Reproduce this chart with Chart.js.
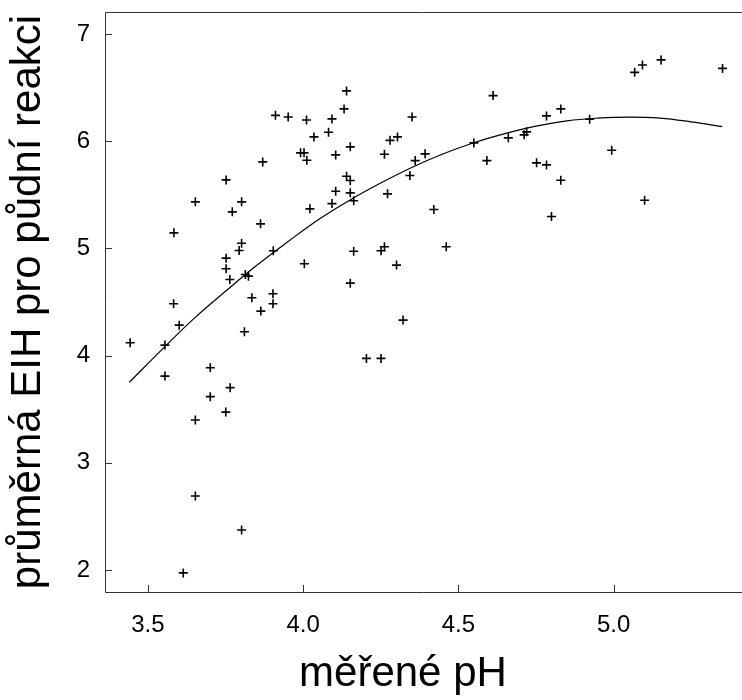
<!DOCTYPE html>
<html>
<head>
<meta charset="utf-8">
<script src="https://cdn.jsdelivr.net/npm/chart.js@4.4.0/dist/chart.umd.min.js"></script>
<style>
  html, body { margin: 0; padding: 0; background: #fff; overflow: hidden; }
  #wrap { width: 742px; height: 700px; }
</style>
</head>
<body>
<div id="wrap"><canvas id="chart"></canvas></div>
<script>
const phValues = [
  3.911, 3.952, 4.011, 4.035, 3.992, 4.003, 4.012, 3.870, 3.752, 3.653,
  3.802, 3.772, 4.022, 3.863, 3.584, 3.802, 3.794, 3.904, 3.752, 3.752,
  3.764, 3.814, 3.824, 4.004, 3.835, 3.903, 3.903, 3.864, 3.583, 3.601,
  3.811, 3.443, 3.555, 3.555, 3.701, 3.765, 3.701, 3.751, 3.653, 3.653,
  3.802, 3.614, 4.140, 4.132, 4.093, 4.351, 4.612, 4.082, 4.280, 4.304,
  4.152, 4.661, 4.550, 4.105, 4.262, 4.393, 4.361, 4.592, 4.140, 4.152,
  4.344, 4.105, 4.152, 4.093, 4.163, 4.272, 4.421, 4.163, 4.262, 4.251,
  4.461, 4.301, 4.152, 4.322, 4.204, 4.251, 5.153, 5.093, 5.068, 5.351,
  4.830, 4.784, 4.923, 4.712, 4.720, 4.994, 4.752, 4.784, 4.830, 4.800,
  5.100
];
const eihValues = [
  6.241, 6.226, 6.198, 6.040, 5.891, 5.891, 5.822, 5.807, 5.639, 5.434,
  5.434, 5.341, 5.369, 5.229, 5.145, 5.048, 4.980, 4.978, 4.909, 4.810,
  4.710, 4.757, 4.741, 4.857, 4.540, 4.577, 4.484, 4.415, 4.484, 4.284,
  4.223, 4.120, 4.098, 3.809, 3.887, 3.701, 3.617, 3.473, 3.399, 2.691,
  2.374, 1.973, 6.469, 6.301, 6.208, 6.226, 6.425, 6.083, 6.008, 6.040,
  5.947, 6.031, 5.984, 5.872, 5.878, 5.882, 5.819, 5.819, 5.673, 5.633,
  5.680, 5.533, 5.518, 5.418, 5.444, 5.509, 5.363, 4.974, 5.015, 4.978,
  5.015, 4.844, 4.676, 4.331, 3.974, 3.974, 6.758, 6.711, 6.642, 6.679,
  6.301, 6.236, 6.204, 6.059, 6.087, 5.915, 5.798, 5.779, 5.636, 5.297,
  5.449
];

// smooth trend curve
const curveX = [3.44, 3.55, 3.65, 3.75, 3.85, 3.95, 4.05, 4.15, 4.25, 4.35,
                4.45, 4.55, 4.65, 4.75, 4.85, 4.95, 5.05, 5.15, 5.25, 5.35];
const curveY = [3.75, 4.07, 4.35, 4.60, 4.84, 5.06, 5.27, 5.45, 5.61, 5.755,
                5.88, 5.985, 6.07, 6.14, 6.19, 6.215, 6.225, 6.215, 6.18, 6.135];

const xTicks = [3.5, 4.0, 4.5, 5.0];
const yTicks = [2, 3, 4, 5, 6, 7];

const FONT = "'Liberation Sans', Arial, sans-serif";
const FRAME = "#333";

// frame on top/left/bottom plus short ticks pointing inwards
const framePlugin = {
  id: "frame",
  afterDraw(chart) {
    const ctx = chart.ctx;
    const a = chart.chartArea;
    const sx = chart.scales.x, sy = chart.scales.y;
    ctx.save();
    ctx.strokeStyle = FRAME;
    ctx.lineWidth = 1;
    ctx.beginPath();
    ctx.moveTo(chart.width, a.top + 0.5);
    ctx.lineTo(a.left + 0.5, a.top + 0.5);
    ctx.lineTo(a.left + 0.5, a.bottom + 0.5);
    ctx.lineTo(chart.width, a.bottom + 0.5);
    ctx.stroke();
    ctx.beginPath();
    sx.ticks.forEach(t => {
      const px = Math.round(sx.getPixelForValue(t.value)) + 0.5;
      ctx.moveTo(px, a.bottom);
      ctx.lineTo(px, a.bottom - 7);
    });
    sy.ticks.forEach(t => {
      const py = Math.round(sy.getPixelForValue(t.value)) + 0.5;
      ctx.moveTo(a.left, py);
      ctx.lineTo(a.left + 7, py);
    });
    ctx.stroke();
    ctx.restore();
  }
};

const points = phValues.map((x, i) => ({ x: x, y: eihValues[i] }));
const curve = curveX.map((x, i) => ({ x: x, y: curveY[i] }));

new Chart(document.getElementById("chart").getContext("2d"), {
  type: "scatter",
  data: {
    datasets: [{
      label: "data",
      data: points,
      pointStyle: "cross",
      pointRadius: 4.5,
      borderColor: "#000",
      borderWidth: 1.6,
      pointHoverRadius: 4.5
    },
    {
      label: "trend",
      type: "line",
      data: curve,
      borderColor: "#000",
      borderWidth: 1.2,
      pointRadius: 0,
      tension: 0.4,
      fill: false
    }]
  },
  options: {
    responsive: true,
    maintainAspectRatio: false,
    animation: false,
    layout: { padding: { top: 12, right: 0, left: 0, bottom: 0 } },
    plugins: {
      legend: { display: false },
      tooltip: { enabled: false }
    },
    scales: {
      x: {
        type: "linear",
        min: 3.362,
        max: 5.394,
        grid: { display: false, drawTicks: false },
        border: { display: false },
        afterBuildTicks: s => { s.ticks = xTicks.map(v => ({ value: v })); },
        afterFit: s => {
          s.height = 108;
          s.paddingLeft = 0;
          s.paddingRight = 0;
        },
        ticks: {
          padding: 19,
          color: "#000",
          font: { family: FONT, size: 24 },
          callback: v => Number(v).toFixed(1)
        },
        title: {
          display: true,
          // trailing spaces nudge the centred title left, as in the original
          text: "měřené pH\u00a0\u00a0\u00a0",
          color: "#000",
          font: { family: FONT, size: 42 },
          padding: { top: 2, bottom: 0 }
        }
      },
      y: {
        type: "linear",
        min: 1.795,
        max: 7.205,
        grid: { display: false, drawTicks: false },
        border: { display: false },
        afterBuildTicks: s => { s.ticks = yTicks.map(v => ({ value: v })); },
        afterFit: s => {
          s.width = 105;
          s.paddingTop = 0;
          s.paddingBottom = 0;
        },
        ticks: {
          padding: 15,
          color: "#000",
          font: { family: FONT, size: 24 },
          callback: v => String(v)
        },
        title: {
          display: true,
          text: "průměrná EIH pro půdní reakci",
          color: "#000",
          font: { family: FONT, size: 42 },
          padding: { top: 3, bottom: 0 }
        }
      }
    }
  },
  plugins: [framePlugin]
});
</script>
</body>
</html>
